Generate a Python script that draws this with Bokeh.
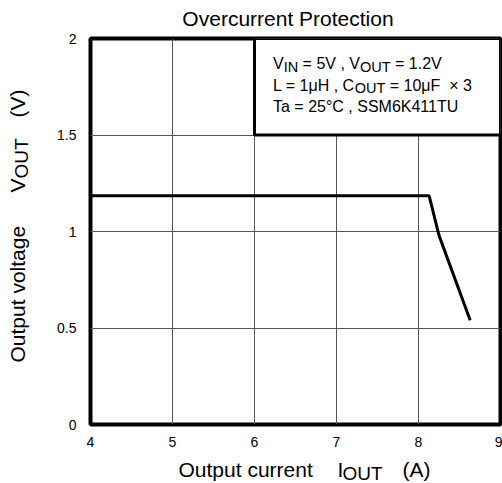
import math
from bokeh.plotting import figure
from bokeh.layouts import column, row
from bokeh.models import Range1d, FixedTicker, Label, BoxAnnotation
from bokeh.embed import file_html
from bokeh.resources import INLINE

# ---- data ----
iout = [4.0, 8.13, 8.25, 8.63]          # Output current (A)
vout = [1.185, 1.185, 0.98, 0.54]       # Output voltage (V)
x_ticks = [4, 5, 6, 7, 8, 9]
x_tick_labels = ["4", "5", "6", "7", "8", "9"]
y_ticks = [0, 0.5, 1, 1.5, 2]
y_tick_labels = ["0", "0.5", "1", "1.5", "2"]
title_text = "Overcurrent Protection"
box_x = [6, 9]        # conditions box extent (A)
box_y = [1.5, 2]      # conditions box extent (V)

FONT = "Liberation Sans"
TOTAL_W, TOTAL_H = 502, 483
TOP_H, LEFT_W = 30, 40
MBL, MBR, MBT, MBB = 50, 2, 8, 30
FW, FH = 410, 386
MAIN_W = MBL + FW + MBR
MAIN_H = MBT + FH + MBB
BOT_H = TOTAL_H - TOP_H - MAIN_H
X0, X1, Y0, Y1 = 4, 9, 0, 2
SHIFT = 0.36   # renderer baseline correction (fraction of font size)


def text_fig(w, h, bt=0, bb=0):
    f = figure(width=w, height=h, x_range=Range1d(0, w), y_range=Range1d(0, h - bt - bb),
               output_backend="svg", toolbar_location=None,
               x_axis_location=None, y_axis_location=None,
               min_border_left=0, min_border_right=0, min_border_top=bt, min_border_bottom=bb)
    f.grid.visible = False
    f.outline_line_color = None
    f.background_fill_color = "white"
    f.border_fill_color = "white"
    return f


def lab(fig, x, y, text, size, align="left", angle=0.0):
    fig.add_layout(Label(x=x, y=y, text=text, text_font=FONT,
                         text_font_size=f"{size}px", text_color="black",
                         text_align=align, text_baseline="alphabetic", angle=angle))


# ---- main plot ----
p = figure(width=MAIN_W, height=MAIN_H, x_range=Range1d(X0, X1), y_range=Range1d(Y0, Y1),
           output_backend="svg", toolbar_location=None,
           min_border_left=MBL, min_border_right=MBR, min_border_top=MBT, min_border_bottom=MBB)
p.background_fill_color = "white"
p.border_fill_color = "white"
p.outline_line_color = "black"
p.outline_line_width = 4

for ax in (p.xaxis[0], p.yaxis[0]):
    ax.axis_line_color = None
    ax.major_tick_line_color = None
    ax.minor_tick_line_color = None
    ax.major_tick_out = 0
    ax.major_tick_in = 0
    ax.major_label_text_font = FONT
    ax.major_label_text_font_size = "14px"
    ax.major_label_text_color = "black"

p.xaxis.ticker = FixedTicker(ticks=x_ticks)
p.xaxis.major_label_overrides = {t: s for t, s in zip(x_ticks, x_tick_labels)}
p.xaxis.major_label_standoff = 12
p.yaxis.ticker = FixedTicker(ticks=y_ticks)
p.yaxis.major_label_overrides = {t: s for t, s in zip(y_ticks, y_tick_labels)}
p.yaxis.major_label_standoff = 14

p.xgrid.ticker = FixedTicker(ticks=x_ticks)
p.ygrid.ticker = FixedTicker(ticks=y_ticks)
for g in (p.xgrid[0], p.ygrid[0]):
    g.grid_line_color = "#555555"
    g.grid_line_width = 1

p.line(iout, vout, line_width=3, line_color="black")

p.add_layout(BoxAnnotation(left=box_x[0], right=box_x[1], bottom=box_y[0], top=box_y[1],
                           fill_color="white", fill_alpha=1.0, line_color="black",
                           line_width=3, line_alpha=1.0))

# page pixel -> main-plot data
def dx(px):
    return X0 + (px - LEFT_W - MBL) / FW * (X1 - X0)

def dy(py):
    return Y1 - (py - TOP_H - MBT) / FH * (Y1 - Y0)

# Arial-compatible advance widths
AW = {'V': 667, 'I': 278, 'N': 722, 'O': 778, 'U': 722, 'T': 611, ' ': 278, '=': 584,
      '5': 556, ',': 278, '.': 278, '1': 556, '2': 556, 'L': 556, 'μ': 576, 'H': 722,
      'C': 722, '0': 556, 'F': 611, '×': 584, '3': 556, 'a': 556, '°': 400, 'S': 667,
      'M': 833, '6': 556, 'K': 667, '4': 556}

def tw(s, size):
    return sum(AW.get(c, 556) for c in s) / 1000.0 * size

# conditions text inside the box
FS, SS, SUB = 16, 14.5, 2.5
lines = [
    (69, [("V", False), ("IN", True), (" = 5V , V", False), ("OUT", True), (" = 1.2V", False)]),
    (90.5, [("L = 1μH , C", False), ("OUT", True), (" = 10μF", False), ("  × 3", False)]),
    (112, [("Ta = 25°C , SSM6K411TU", False)]),
]
for base, segs in lines:
    cx = 272.5
    for s, sub in segs:
        size = SS if sub else FS
        stripped = s.lstrip(" ")
        cx += tw(s[:len(s) - len(stripped)], size)
        by_ = base + (SUB if sub else 0) - SHIFT * size
        p.add_layout(Label(x=dx(cx), y=dy(by_), text=stripped,
                           text_font=FONT, text_font_size=f"{size}px", text_color="black",
                           text_align="left", text_baseline="alphabetic"))
        cx += tw(stripped, size)

# ---- title strip ----
top = text_fig(TOTAL_W, TOP_H)
TS = 21
lab(top, 287.5, TOP_H - (25.5 - SHIFT * TS), title_text, TS, align="center")

# ---- y-label strip (rotated, frame aligned with main plot) ----
left = text_fig(LEFT_W, MAIN_H, bt=MBT, bb=MBB)
def ly(py):
    return FH - (py - TOP_H - MBT)
rot = math.pi / 2
YS, YSS = 21, 19
lab(left, 25 - SHIFT * YS, ly(362), "Output voltage", YS, angle=rot)
lab(left, 25 - SHIFT * YS, ly(192), "V", YS, angle=rot)
lab(left, 27.5 - SHIFT * YSS, ly(178), "OUT", YSS, angle=rot)
lab(left, 25 - SHIFT * YS, ly(117), "(V)", YS, angle=rot)

# ---- x-label strip ----
bot = text_fig(TOTAL_W, BOT_H)
def by(py):
    return BOT_H - (py - TOP_H - MAIN_H)
XS, XSS = 21, 19
lab(bot, 178, by(477 - SHIFT * XS), "Output current", XS)
lab(bot, 337, by(477 - SHIFT * XS), "I", XS)
lab(bot, 342, by(480 - SHIFT * XSS), "OUT", XSS)
lab(bot, 402, by(477 - SHIFT * XS), "(A)", XS)

layout = column(top, row(left, p, spacing=0), bot, spacing=0)
open("out.html", "w").write(file_html(layout, INLINE))
